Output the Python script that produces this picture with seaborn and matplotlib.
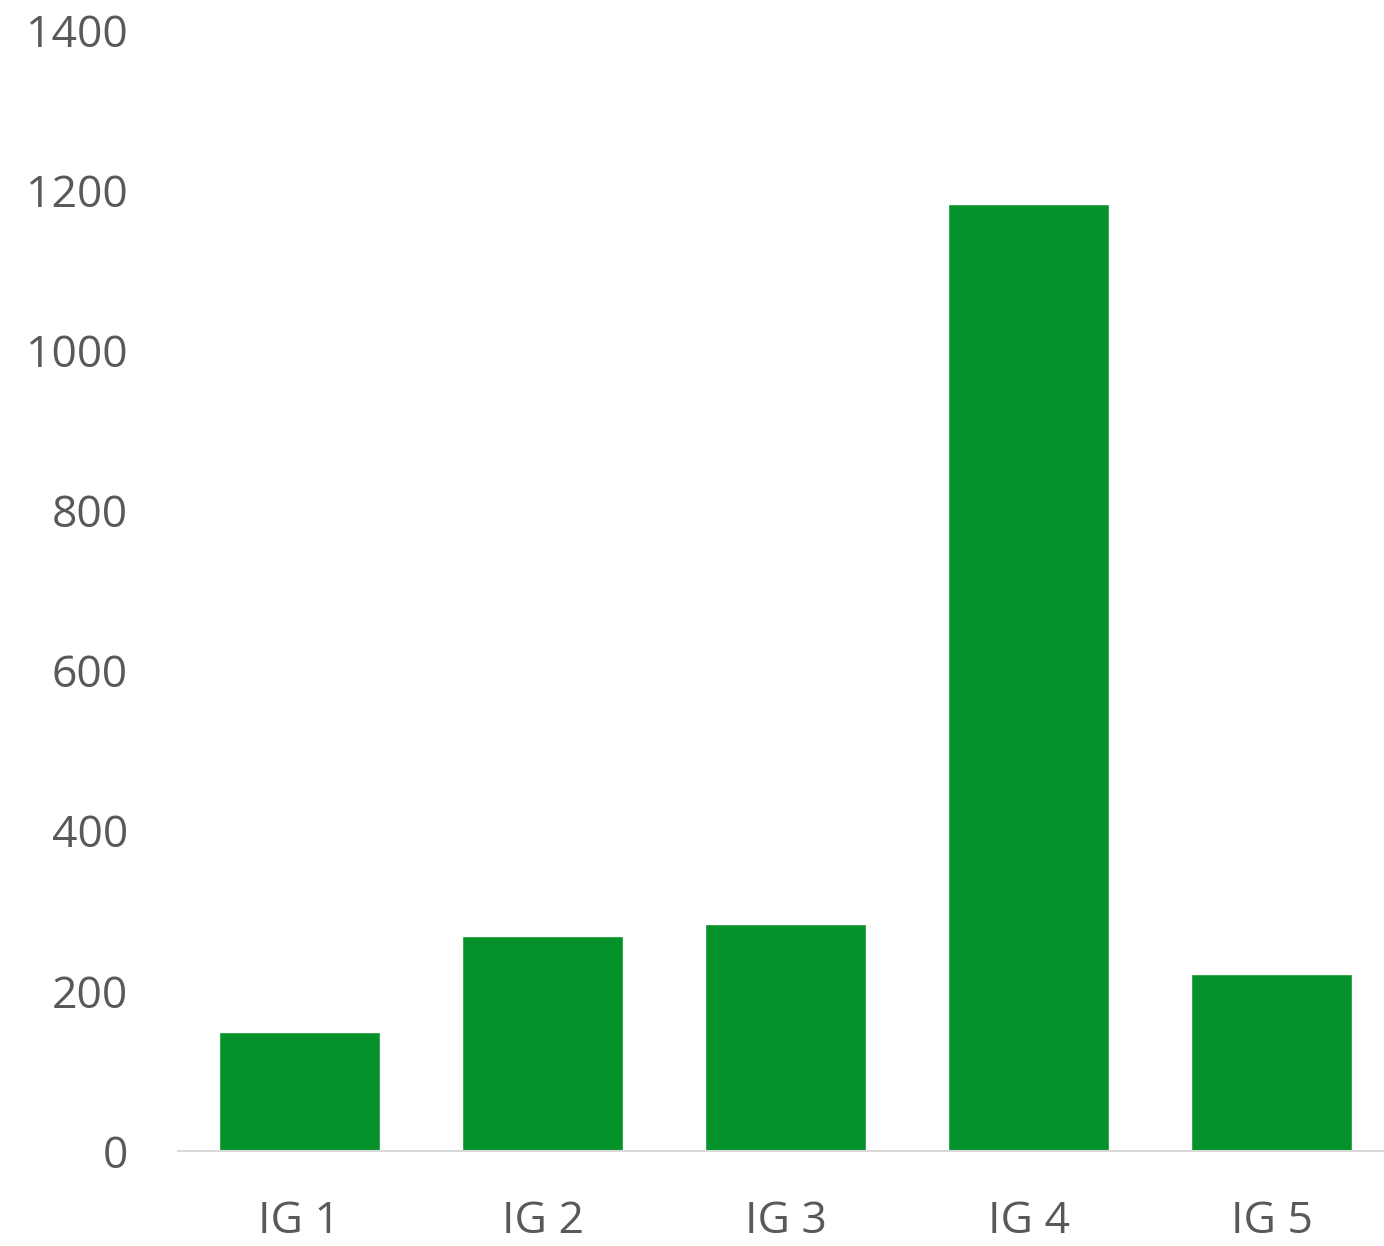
import matplotlib
matplotlib.use("Agg")
import matplotlib.pyplot as plt
import seaborn as sns
import pandas as pd

categories = ["IG 1", "IG 2", "IG 3", "IG 4", "IG 5"]
values = [148, 269, 283, 1183, 221]
y_ticks = [0, 200, 400, 600, 800, 1000, 1200, 1400]

sns.set_theme(style="white")
plt.rcParams["font.family"] = ["Open Sans", "DejaVu Sans"]

df = pd.DataFrame({"group": categories, "value": values})

fig = plt.figure(figsize=(13.84, 12.46), dpi=100)
ax = fig.add_axes([178 / 1384, 95 / 1246, 1215 / 1384, 1121 / 1246])

sns.barplot(data=df, x="group", y="value", color="#05922A", saturation=1,
            width=0.665, ax=ax)

ax.set_ylim(0, 1400)
ax.set_yticks(y_ticks)
ax.set_xlabel("")
ax.set_ylabel("")
for side in ["top", "right", "left"]:
    ax.spines[side].set_visible(False)
ax.spines["bottom"].set_color("#D9D9D9")
ax.spines["bottom"].set_linewidth(1.5)
ax.tick_params(axis="y", length=0, pad=36, labelsize=32, labelcolor="#595959")
ax.tick_params(axis="x", length=0, pad=35, labelsize=32, labelcolor="#595959")
ax.grid(False)

fig.savefig("out.png", dpi=100)
